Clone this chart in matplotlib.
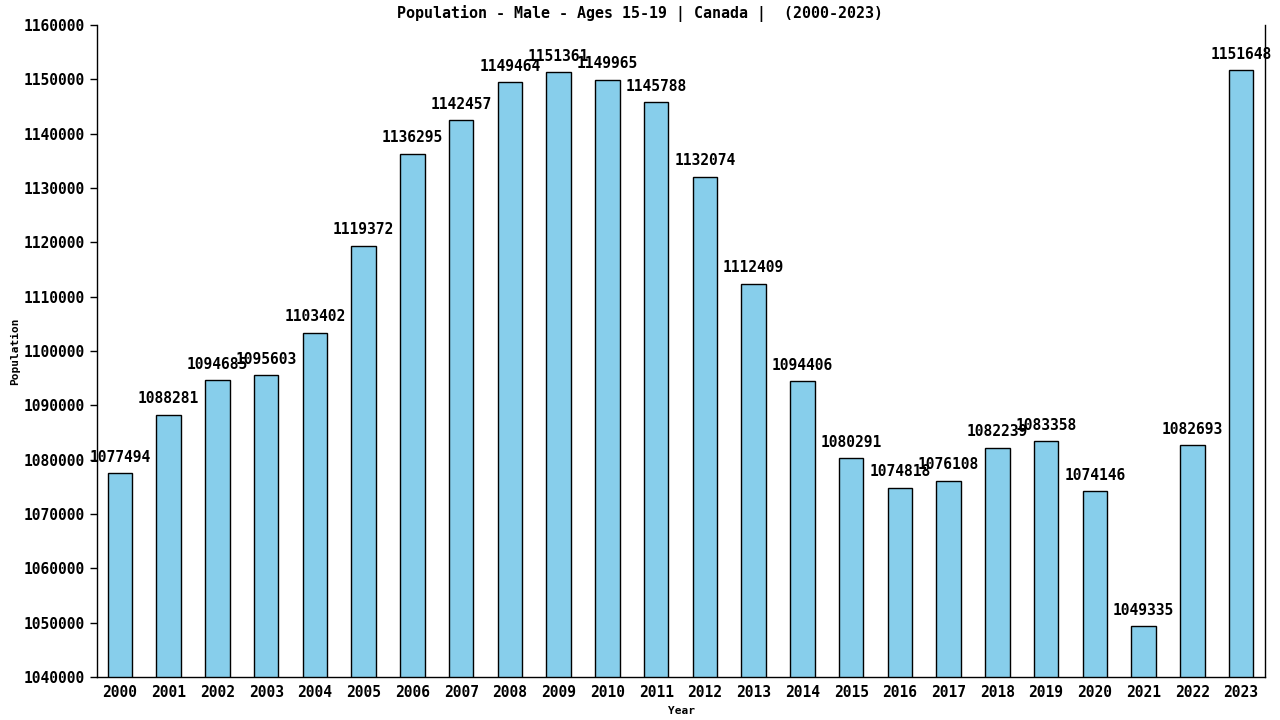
import matplotlib
matplotlib.use("Agg")
import matplotlib.pyplot as plt

years = [str(y) for y in range(2000, 2024)]
population = [1077494, 1088281, 1094685, 1095603, 1103402, 1119372, 1136295, 1142457,
              1149464, 1151361, 1149965, 1145788, 1132074, 1112409, 1094406, 1080291,
              1074818, 1076108, 1082239, 1083358, 1074146, 1049335, 1082693, 1151648]
yticks = list(range(1040000, 1160001, 10000))

font = "DejaVu Sans Mono"
fs = 10.5
fig = plt.figure(figsize=(12.8, 7.2), dpi=100)
ax = fig.add_axes([97/1280, 43/720, 1168/1280, 652/720])
x = list(range(len(years)))
ax.bar(x, population, width=0.5, color="#87CEEB", edgecolor="black", linewidth=1.0)
for xi, v in zip(x, population):
    ax.annotate(str(v), (xi, v), xytext=(0, 6), textcoords="offset points",
                ha="center", va="bottom", fontsize=fs, family=font, fontweight="bold")
ax.set_xlim(-0.47, 23.49)
ax.set_ylim(1040000, 1160000)
ax.set_yticks(yticks)
ax.set_yticklabels([str(t) for t in yticks], fontsize=fs, family=font, fontweight="bold")
ax.set_xticks(x)
ax.set_xticklabels(years, fontsize=fs, family=font, fontweight="bold")
ax.tick_params(axis="x", length=0, pad=6)
ax.tick_params(axis="y", length=5, width=1, pad=4)
ax.spines["top"].set_visible(False)
for s in ["left", "right", "bottom"]:
    ax.spines[s].set_linewidth(1.0)
fig.text(0.5, 1 - 13/720, "Population - Male - Ages 15-19 | Canada |  (2000-2023)",
         fontsize=10.8, family=font, fontweight="bold", ha="center", va="center")
ax.set_xlabel("Year", fontsize=8, family=font, fontweight="bold", labelpad=4)
ax.set_ylabel("Population", fontsize=8, family=font, fontweight="bold", labelpad=2)
fig.savefig("out.png", dpi=100)
